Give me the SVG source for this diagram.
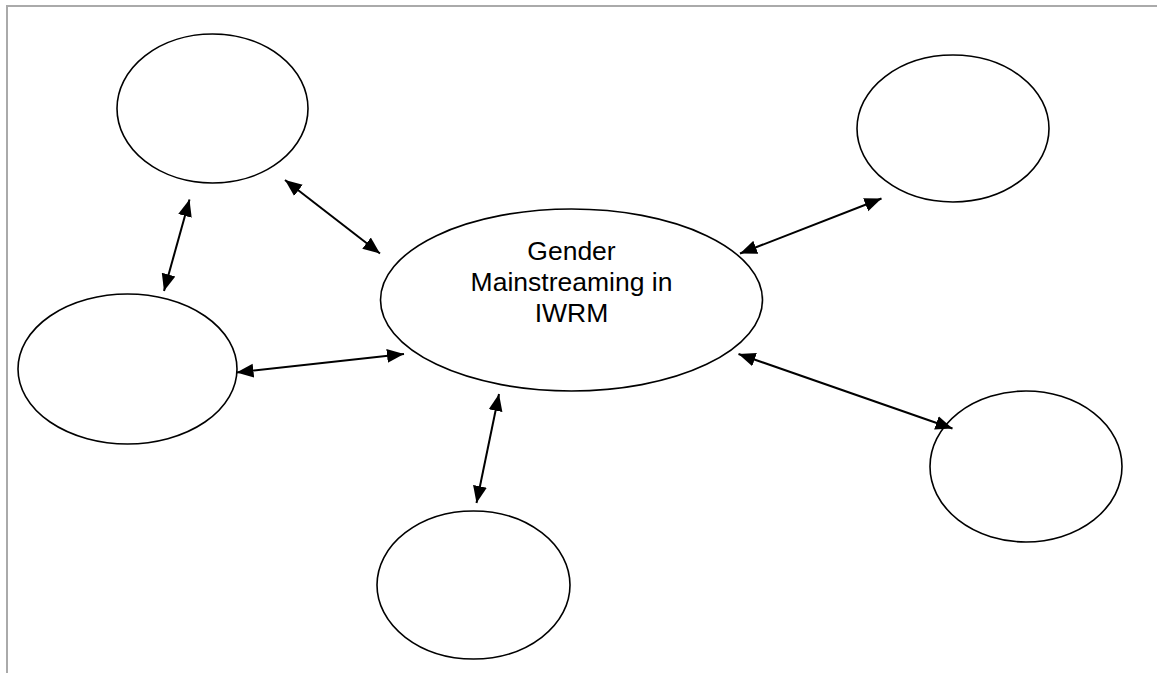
<svg xmlns="http://www.w3.org/2000/svg" width="1157" height="673" viewBox="0 0 1157 673">
<style>
.node{fill:#fff;stroke:#000;stroke-width:1.6}
.conn{stroke:#000;stroke-width:2;fill:none;marker-start:url(#ah);marker-end:url(#ah)}
.lbl{font-family:"Liberation Sans",Arial,sans-serif;font-size:26.5px;fill:#000;text-anchor:middle}
</style>
<defs>
<marker id="ah" markerUnits="userSpaceOnUse" markerWidth="18" markerHeight="15" refX="17" refY="7.5" orient="auto-start-reverse" viewBox="0 0 18 15">
<path d="M0,0.5 L17,7.5 L0,14.5 z" fill="#000"/>
</marker>
</defs>
<rect width="1157" height="673" fill="#fff"/>
<g id="frame" stroke="#aaa" stroke-width="2" fill="none">
<path d="M7,673 L7,6 L1157,6"/>
</g>
<g id="node-topleft"><ellipse class="node" cx="212.5" cy="108.5" rx="95.5" ry="74.5"/></g>
<g id="node-topright"><ellipse class="node" cx="953" cy="128.5" rx="96" ry="73.5"/></g>
<g id="node-left"><ellipse class="node" cx="127.5" cy="369" rx="109.5" ry="75"/></g>
<g id="node-center"><ellipse class="node" cx="571.5" cy="300" rx="191" ry="91"/>
<text class="lbl" x="571.5" y="260">Gender</text>
<text class="lbl" x="571.5" y="291">Mainstreaming in</text>
<text class="lbl" x="571.5" y="321.5">IWRM</text>
</g>
<g id="node-bottom"><ellipse class="node" cx="473.5" cy="585" rx="96.5" ry="74"/></g>
<g id="node-right"><ellipse class="node" cx="1026" cy="466.5" rx="96" ry="75.5"/></g>
<g id="connectors">
<line class="conn" x1="285" y1="180" x2="380" y2="253.5"/>
<line class="conn" x1="189.5" y1="199.5" x2="164" y2="291"/>
<line class="conn" x1="236.5" y1="372.5" x2="404" y2="354"/>
<line class="conn" x1="740" y1="253.5" x2="881.5" y2="198.5"/>
<line class="conn" x1="738.5" y1="354" x2="952.5" y2="428.5"/>
<line class="conn" x1="499" y1="394" x2="476.5" y2="503"/>
</g>
</svg>
